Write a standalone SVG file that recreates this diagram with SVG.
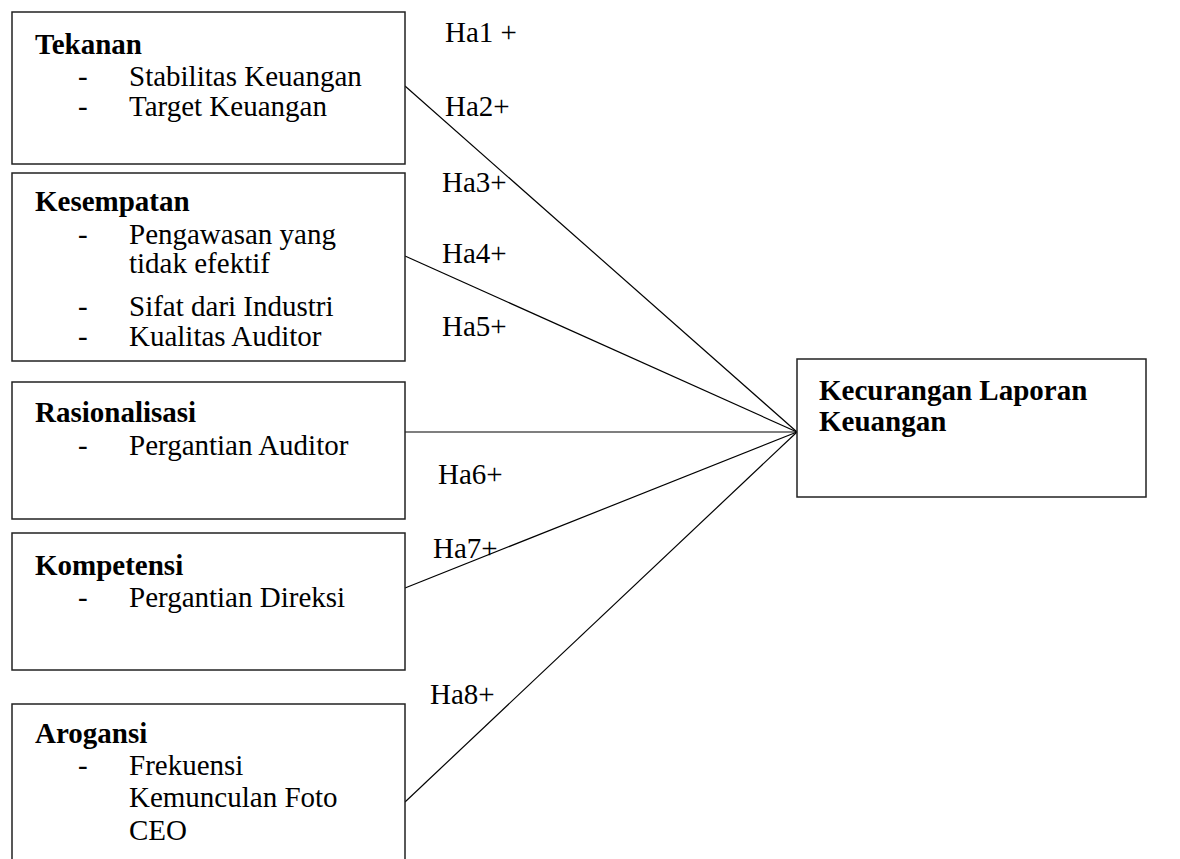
<svg xmlns="http://www.w3.org/2000/svg" width="1180" height="859" viewBox="0 0 1180 859">
<style>
.box{fill:#fff;stroke:#222;stroke-width:1.5}
.t{font-family:"Liberation Serif","Times New Roman",serif;font-size:29px;fill:#000}
.b{font-weight:bold}
.c{stroke:#000;stroke-width:1.2;fill:none}
</style>
<rect width="1180" height="859" fill="#fff"/>
<g id="connectors">
<line class="c" x1="405" y1="86" x2="797" y2="432"/>
<line class="c" x1="405" y1="256" x2="797" y2="432"/>
<line class="c" x1="405" y1="432" x2="797" y2="432"/>
<line class="c" x1="405" y1="588" x2="797" y2="432"/>
<line class="c" x1="405" y1="802" x2="797" y2="432"/>
</g>
<g id="labels">
<text class="t" x="445" y="42">Ha1 +</text>
<text class="t" x="445" y="116">Ha2+</text>
<text class="t" x="442" y="192">Ha3+</text>
<text class="t" x="442" y="263">Ha4+</text>
<text class="t" x="442" y="336">Ha5+</text>
<text class="t" x="438" y="484">Ha6+</text>
<text class="t" x="433" y="558">Ha7+</text>
<text class="t" x="430" y="704">Ha8+</text>
</g>
<g id="tekanan">
<rect class="box" x="12" y="12" width="393" height="152"/>
<text class="t b" x="35" y="54">Tekanan</text>
<text class="t" x="78" y="86">-</text>
<text class="t" x="129" y="86">Stabilitas Keuangan</text>
<text class="t" x="78" y="116">-</text>
<text class="t" x="129" y="116">Target Keuangan</text>
</g>
<g id="kesempatan">
<rect class="box" x="12" y="173" width="393" height="188"/>
<text class="t b" x="35" y="211">Kesempatan</text>
<text class="t" x="78" y="244">-</text>
<text class="t" x="129" y="244">Pengawasan yang</text>
<text class="t" x="129" y="273">tidak efektif</text>
<text class="t" x="78" y="316">-</text>
<text class="t" x="129" y="316">Sifat dari Industri</text>
<text class="t" x="78" y="346">-</text>
<text class="t" x="129" y="346">Kualitas Auditor</text>
</g>
<g id="rasionalisasi">
<rect class="box" x="12" y="382" width="393" height="137"/>
<text class="t b" x="35" y="422">Rasionalisasi</text>
<text class="t" x="78" y="455">-</text>
<text class="t" x="129" y="455">Pergantian Auditor</text>
</g>
<g id="kompetensi">
<rect class="box" x="12" y="533" width="393" height="137"/>
<text class="t b" x="35" y="575">Kompetensi</text>
<text class="t" x="78" y="607">-</text>
<text class="t" x="129" y="607">Pergantian Direksi</text>
</g>
<g id="arogansi">
<rect class="box" x="12" y="704" width="393" height="170"/>
<text class="t b" x="35" y="743">Arogansi</text>
<text class="t" x="78" y="775">-</text>
<text class="t" x="129" y="775">Frekuensi</text>
<text class="t" x="129" y="807">Kemunculan Foto</text>
<text class="t" x="129" y="840">CEO</text>
</g>
<g id="kecurangan">
<rect class="box" x="797" y="359" width="349" height="138"/>
<text class="t b" x="819" y="400">Kecurangan Laporan</text>
<text class="t b" x="819" y="431">Keuangan</text>
</g>
</svg>
